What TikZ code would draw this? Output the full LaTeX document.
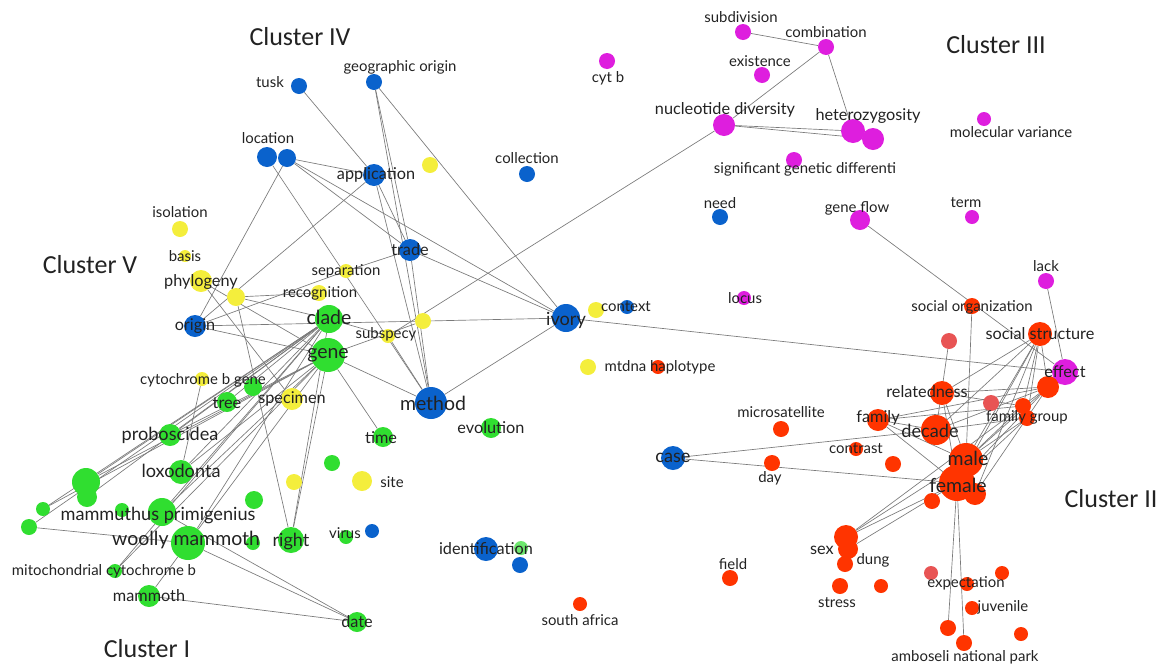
\documentclass[tikz,border=0pt]{standalone}
\usepackage{fontspec}
\setmainfont{Lato}
\newfontfamily\clf{Carlito}
\pgfdeclarelayer{bg}
\pgfsetlayers{bg,main}
\definecolor{cB}{HTML}{0A62CC}
\definecolor{cG}{HTML}{30DE30}
\definecolor{cY}{HTML}{F4EE3C}
\definecolor{cM}{HTML}{DE1EDE}
\definecolor{cR}{HTML}{FF3400}
\definecolor{cF}{HTML}{E85454}
\definecolor{cE}{HTML}{7A7A7A}
\definecolor{cT}{HTML}{222222}
\tikzset{
  nd/.style={circle, inner sep=0pt, minimum size=#1*1.5pt},
  nb/.style={nd=#1, fill=cB},
  ng/.style={nd=#1, fill=cG},
  ny/.style={nd=#1, fill=cY},
  nm/.style={nd=#1, fill=cM},
  nr/.style={nd=#1, fill=cR},
  nf/.style={nd=#1, fill=cF},
  lb/.style={inner sep=0pt, text=cT, font=\fontsize{11.2}{13}\selectfont},
  ls/.style={lb, font=\fontsize{11.2}{13}\selectfont},
  lm/.style={lb, font=\fontsize{12.2}{14}\selectfont},
  ll/.style={lb, font=\fontsize{13.6}{16}\selectfont},
  lx/.style={lb, font=\fontsize{14.6}{17}\selectfont},
  cl/.style={inner sep=0pt, text=cT, font=\clf\fontsize{19.5}{23}\selectfont},
  ed/.style={draw=cE, line width=0.5pt}
}
\begin{document}
\begin{tikzpicture}[x=0.75pt, y=-0.75pt]
\useasboundingbox (0,0) rectangle (1168,668);
% ---------- blue
\node[nb=8] (tusk) at (299,86) {};
\node[nb=8] (geo) at (374,82) {};
\node[nb=10] (locA) at (267,157) {};
\node[nb=9] (locB) at (287,158) {};
\node[nb=11] (app) at (374,175) {};
\node[nb=8] (coll) at (527,174) {};
\node[nb=8] (need) at (720,217) {};
\node[nb=11] (trade) at (410,250) {};
\node[nb=11] (origin) at (195,326) {};
\node[nb=14] (ivory) at (566,318) {};
\node[nb=7] (ctxB) at (627,307) {};
\node[nb=16] (method) at (431,403) {};
\node[nb=12] (case) at (673,458) {};
\node[nb=7] (virusB) at (372,531) {};
\node[nb=12] (ident) at (486,549) {};
\node[nb=8] (identB) at (520,565) {};
% ---------- yellow
\node[ny=8] (y1) at (430,165) {};
\node[ny=8] (isol) at (180,229) {};
\node[ny=6] (basis) at (185,256) {};
\node[ny=11] (phylo) at (201,281) {};
\node[ny=9] (y2) at (236,297) {};
\node[ny=7] (sep) at (346,271) {};
\node[ny=8] (recog) at (319,293) {};
\node[ny=7] (subsp) at (388,336) {};
\node[ny=8] (y3) at (423,321) {};
\node[ny=8] (yctx) at (596,310) {};
\node[ny=7] (cytb) at (202,379) {};
\node[ny=11] (spec) at (292,399) {};
\node[ny=8] (y4) at (294,482) {};
\node[ny=10] (site) at (362,481) {};
\node[ny=8] (mtdna) at (588,367) {};
% ---------- green
\node[ng=14] (clade) at (329,319) {};
\node[ng=17] (gene) at (328,355) {};
\node[ng=9] (gcyt) at (253,387) {};
\node[ng=10] (tree) at (227,402) {};
\node[ng=11] (prob) at (170,435) {};
\node[ng=10] (time) at (383,437) {};
\node[ng=10] (evol) at (491,428) {};
\node[ng=12] (lox) at (181,472) {};
\node[ng=14] (gA) at (86,482) {};
\node[ng=10] (gB) at (87,497) {};
\node[ng=7] (gC) at (43,509) {};
\node[ng=8] (gD) at (29,527) {};
\node[ng=7] (gE) at (122,510) {};
\node[ng=14] (mamp) at (162,512) {};
\node[ng=17] (woolly) at (188,543) {};
\node[ng=9] (gF) at (254,500) {};
\node[ng=7] (gG) at (253,543) {};
\node[ng=13] (right) at (291,540) {};
\node[ng=8] (gH) at (332,463) {};
\node[ng=7] (gvir) at (346,537) {};
\node[ng=7] (mito) at (115,571) {};
\node[ng=11] (mammoth) at (149,596) {};
\node[ng=10] (date) at (357,622) {};
\node[nd=7, fill=cG!70] (gid) at (521,548) {};
% ---------- magenta
\node[nm=8] (subdiv) at (743,32) {};
\node[nm=8] (comb) at (826,47) {};
\node[nm=8] (exist) at (762,75) {};
\node[nm=8] (cytb2) at (607,61) {};
\node[nm=11] (nucl) at (724,125) {};
\node[nm=12] (het1) at (853,131) {};
\node[nm=11] (het2) at (873,139) {};
\node[nm=8] (sig) at (794,160) {};
\node[nm=7] (molv) at (984,119) {};
\node[nm=10] (gflow) at (860,220) {};
\node[nm=7] (term) at (972,217) {};
\node[nm=7] (locus) at (744,298) {};
\node[nm=8] (lack) at (1046,281) {};
\node[nm=13] (effect) at (1065,372) {};
% ---------- red
\node[nr=8] (socorg) at (972,306) {};
\node[nr=12] (socstr) at (1040,334) {};
\node[nf=8] (fr1) at (949,341) {};
\node[nr=11] (r1) at (1048,387) {};
\node[nr=12] (relat) at (942,393) {};
\node[nf=8] (fr2) at (991,403) {};
\node[nr=8] (fg1) at (1023,406) {};
\node[nr=8] (fg2) at (1027,418) {};
\node[nr=11] (family) at (878,420) {};
\node[nr=15] (decade) at (936,430) {};
\node[nr=8] (micro) at (781,429) {};
\node[nr=7] (contr) at (856,449) {};
\node[nr=8] (r2) at (893,464) {};
\node[nr=8] (day) at (772,463) {};
\node[nr=17] (male) at (966,460) {};
\node[nr=18] (female) at (957,483) {};
\node[nr=11] (r3) at (975,494) {};
\node[nr=8] (r4) at (932,501) {};
\node[nr=12] (sex1) at (846,537) {};
\node[nr=10] (sex2) at (848,549) {};
\node[nr=8] (dung) at (845,564) {};
\node[nr=8] (stress) at (840,586) {};
\node[nr=7] (r5) at (881,586) {};
\node[nf=7] (fr3) at (931,573) {};
\node[nr=7] (expect) at (967,584) {};
\node[nr=7] (r6) at (1002,573) {};
\node[nr=7] (juv) at (972,608) {};
\node[nr=8] (r7) at (948,628) {};
\node[nr=8] (ambo) at (964,643) {};
\node[nr=7] (r8) at (1021,634) {};
\node[nr=8] (field) at (730,578) {};
\node[nr=7] (safr) at (580,604) {};
\node[nr=7] (mtdnaR) at (658,367) {};
% ---------- edges
\begin{pgfonlayer}{bg}
\foreach \a/\b in {tusk/app, geo/trade, geo/method, geo/ivory, app/trade, app/method, app/origin,
  locB/app, locB/trade, locB/ivory, locA/method, locB/origin, trade/ivory, trade/method, sep/trade,
  ivory/method, origin/ivory, ivory/effect, nucl/subsp, subdiv/comb, comb/nucl, comb/het1,
  nucl/het1, nucl/het2, gflow/effect, lack/effect,
  clade/gA, clade/gB, clade/gC, clade/gD, clade/prob, clade/lox, clade/mamp, clade/woolly, clade/tree,
  clade/mito, clade/right, clade/subsp, gene/gA, gene/gC, gene/prob, gene/mamp, gene/woolly, gene/lox,
  gene/right, gene/time, gene/method, gene/origin, gene/phylo, gene/y3, y2/clade, y2/right, y2/recog,
  phylo/spec, sep/origin, subsp/method, woolly/date, mamp/date, mammoth/date, woolly/mammoth,
  gD/woolly, cytb/lox, mito/gene,
  case/decade, case/female, socorg/male, fr1/decade, socstr/relat, socstr/decade, socstr/male,
  socstr/female, socstr/fg1, socstr/fg2, socstr/r1, socstr/r3, relat/r1, relat/male, relat/female,
  relat/fg1, family/r1, family/fg1, family/female, family/decade, family/male, decade/r1, decade/fg2,
  male/r1, male/fg1, male/fg2, female/r1, female/fg2, r3/r1, sex1/female, sex1/male, sex2/female,
  sex1/r1, female/r7, female/ambo}
  \draw[ed] (\a) -- (\b);
\end{pgfonlayer}
% ---------- labels
\node[ls] (tuskL) at (270,82) {tusk};
\node[ls] (geoL) at (400,67) {geographic origin};
\node[ls] (locL) at (268,138) {location};
\node[lm] (appL) at (376,175) {application};
\node[ls] (collL) at (527,158) {collection};
\node[ls] (needL) at (720,203) {need};
\node[lm] (tradeL) at (410,250) {trade};
\node[lm] (originL) at (195,326) {origin};
\node[ll] (ivoryL) at (566,320) {ivory};
\node[ls] (ctxL) at (626,307) {context};
\node[lx] (methodL) at (433,403) {method};
\node[ll] (caseL) at (673,458) {case};
\node[ls] (virusL) at (345,533) {virus};
\node[lm] (identL) at (486,549) {identification};
\node[ls] (isolL) at (180,212) {isolation};
\node[ls] (basisL) at (185,256) {basis};
\node[lm] (phyloL) at (201,282) {phylogeny};
\node[ls] (sepL) at (346,271) {separation};
\node[ls] (recogL) at (320,293) {recognition};
\node[ls] (subspL) at (386,334) {subspecy};
\node[ls] (cytbL) at (203,380) {cytochrome b gene};
\node[lm] (specL) at (292,399) {specimen};
\node[ls] (siteL) at (392,482) {site};
\node[ls] (mtdnaL) at (660,367) {mtdna haplotype};
\node[lx] (cladeL) at (329,317) {clade};
\node[lx] (geneL) at (328,355) {gene};
\node[lm] (treeL) at (227,403) {tree};
\node[ll] (probL) at (170,435) {proboscidea};
\node[lm] (timeL) at (381,438) {time};
\node[lm] (evolL) at (491,428) {evolution};
\node[ll] (loxL) at (181,471) {loxodonta};
\node[ll] (mampL) at (158,515) {mammuthus primigenius};
\node[lx] (woollyL) at (186,540) {woolly mammoth};
\node[ll] (rightL) at (291,541) {right};
\node[ls] (mitoL) at (104,571) {mitochondrial cytochrome b};
\node[lm] (mammothL) at (149,596) {mammoth};
\node[lm] (dateL) at (357,622) {date};
\node[ls] (subdivL) at (741,17) {subdivision};
\node[ls] (combL) at (826,32) {combination};
\node[ls] (existL) at (760,61) {existence};
\node[ls] (cytb2L) at (608,78) {cyt b};
\node[lm] (nuclL) at (725,110) {nucleotide diversity};
\node[lm] (hetL) at (868,116) {heterozygosity};
\node[ls] (sigL) at (805,169) {significant genetic differenti};
\node[ls] (molvL) at (1011,132) {molecular variance};
\node[ls] (gflowL) at (857,208) {gene flow};
\node[ls] (termL) at (966,203) {term};
\node[ls] (locusL) at (745,298) {locus};
\node[ls] (lackL) at (1046,266) {lack};
\node[lm] (effectL) at (1065,372) {effect};
\node[ls] (socorgL) at (972,307) {social organization};
\node[lm] (socstrL) at (1040,334) {social structure};
\node[lm] (relatL) at (927,392) {relatedness};
\node[ls] (fgL) at (1027,417) {family group};
\node[lm] (familyL) at (878,418) {family};
\node[ll] (decadeL) at (930,431) {decade};
\node[ls] (microL) at (781,412) {microsatellite};
\node[ls] (contrL) at (856,449) {contrast};
\node[ls] (dayL) at (770,478) {day};
\node[lx] (maleL) at (968,458) {male};
\node[lx] (femaleL) at (958,485) {female};
\node[lm] (sexL) at (822,550) {sex};
\node[ls] (dungL) at (873,560) {dung};
\node[ls] (stressL) at (837,603) {stress};
\node[ls] (expectL) at (966,583) {expectation};
\node[ls] (juvL) at (1003,607) {juvenile};
\node[ls] (amboL) at (965,657) {amboseli national park};
\node[ls] (fieldL) at (733,564) {field};
\node[ls] (safrL) at (580,620) {south africa};
% ---------- cluster titles
\node[cl] (c4) at (300,37) {Cluster IV};
\node[cl] (c3) at (996,45) {Cluster III};
\node[cl] (c5) at (90,265) {Cluster V};
\node[cl] (c1) at (147,649) {Cluster I};
\node[cl] (c2) at (1111,499) {Cluster II};
\end{tikzpicture}
\end{document}
